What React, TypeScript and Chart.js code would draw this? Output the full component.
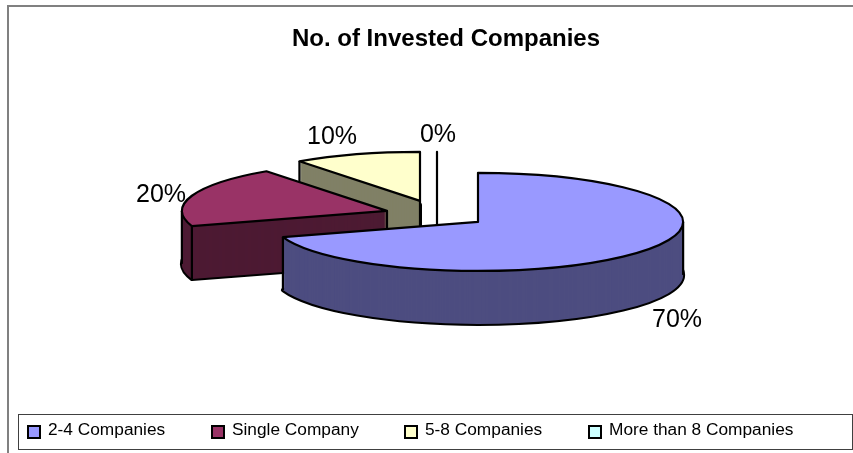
import React, { useEffect, useRef } from "react";
import { Chart, registerables } from "chart.js";

Chart.register(...registerables);

const categories = ["2-4 Companies", "Single Company", "5-8 Companies", "More than 8 Companies"];
const percentages = [70, 20, 10, 0];
const topColors = ["#9999FF", "#993366", "#FFFFCC", "#CCFFFF"];
const wallColors = ["#4D4D80", "#4D1A33", "#808066", "#668080"];
const chartTitle = "No. of Invested Companies";

const FONT = '"Liberation Sans", Arial, sans-serif';
const PIE_SHIFT_X = 32;
const RX_SCALE = 205 / 158;
const RY_SCALE = 49 / 158;
const DEPTH = 53;
const explodeX = [0, -91, -58, -41];
const explodeY = [0, -11, -21, -21];
const labelPos: [number, number][] = [
  [677, 320],
  [161, 195],
  [332, 137],
  [438, 135],
];
const legendMarkerX = [28, 212, 405, 589];
const legendTextX = [48, 232, 425, 609];

const pie3d = {
  id: "pie3d",
  beforeDatasetDraw(chart: any) {
    const ctx: CanvasRenderingContext2D = chart.ctx;
    const arcs = chart.getDatasetMeta(0).data;
    ctx.save();
    ctx.lineJoin = "round";
    ctx.strokeStyle = "#000";
    // back to front
    for (let i = arcs.length - 1; i >= 0; i--) {
      const el = arcs[i];
      const rx = el.outerRadius * RX_SCALE;
      const ry = el.outerRadius * RY_SCALE;
      const cx = el.x + PIE_SHIFT_X + explodeX[i];
      const cy = el.y + explodeY[i];
      const a0 = el.startAngle;
      const a1 = el.endAngle;
      const sector = (dy: number) => {
        ctx.beginPath();
        ctx.moveTo(cx, cy + dy);
        ctx.ellipse(cx, cy + dy, rx, ry, 0, a0, a1);
        ctx.closePath();
      };
      const vertical = (x: number, y: number) => {
        ctx.beginPath();
        ctx.moveTo(x, y);
        ctx.lineTo(x, y + DEPTH);
        ctx.stroke();
      };
      const zero = a1 - a0 < 1e-6;
      ctx.lineWidth = zero ? 2 : 4;
      sector(DEPTH);
      ctx.stroke();
      if (!zero) {
        ctx.fillStyle = wallColors[i];
        for (let dy = DEPTH; dy >= 0; dy--) {
          sector(dy);
          ctx.fill();
        }
      }
      ctx.lineWidth = 2.2;
      if (!zero) {
        if (Math.cos(a0) < -0.01 || Math.sin(a0) > 0) {
          vertical(cx + rx * Math.cos(a0), cy + ry * Math.sin(a0));
        }
        if (Math.cos(a1) > 0.01 || Math.sin(a1) > 0) {
          vertical(cx + rx * Math.cos(a1), cy + ry * Math.sin(a1));
        }
      }
      const spansFront = a0 < Math.PI / 2 && a1 > Math.PI / 2;
      if (!spansFront) vertical(cx, cy);
      for (const tip of [0, Math.PI]) {
        if (a0 < tip && a1 > tip) vertical(cx + rx * Math.cos(tip), cy);
      }
      if (!zero) {
        ctx.fillStyle = topColors[i];
        sector(0);
        ctx.fill();
      }
      sector(0);
      ctx.stroke();
    }
    ctx.restore();
    return false;
  },
  afterDraw(chart: any) {
    const ctx: CanvasRenderingContext2D = chart.ctx;
    ctx.save();
    // outer frame
    ctx.strokeStyle = "#808080";
    ctx.lineWidth = 2;
    ctx.beginPath();
    ctx.moveTo(8, 453);
    ctx.lineTo(8, 6);
    ctx.lineTo(853, 6);
    ctx.stroke();
    // data labels
    ctx.fillStyle = "#000";
    ctx.font = `25px ${FONT}`;
    ctx.textAlign = "center";
    ctx.textBaseline = "middle";
    percentages.forEach((v, i) => {
      ctx.fillText(`${v}%`, labelPos[i][0], labelPos[i][1]);
    });
    // legend
    ctx.strokeStyle = "#404040";
    ctx.lineWidth = 1;
    ctx.strokeRect(18.5, 414.5, 834, 35);
    ctx.font = `17.3px ${FONT}`;
    ctx.textAlign = "left";
    categories.forEach((c, i) => {
      ctx.fillStyle = topColors[i];
      ctx.fillRect(legendMarkerX[i], 426, 12, 12);
      ctx.strokeStyle = "#000";
      ctx.lineWidth = 2;
      ctx.strokeRect(legendMarkerX[i], 426, 12, 12);
      ctx.fillStyle = "#000";
      ctx.fillText(c, legendTextX[i], 430);
    });
    ctx.restore();
  },
};

export default function App() {
  const ref = useRef<HTMLCanvasElement>(null);
  useEffect(() => {
    const chart = new Chart(ref.current!, {
      type: "pie",
      data: {
        labels: categories,
        datasets: [{ data: percentages, backgroundColor: topColors, borderWidth: 0 }],
      },
      options: {
        responsive: false,
        animation: false,
        layout: { padding: { left: 39, right: 0, top: 0, bottom: 73 } },
        plugins: {
          legend: { display: false },
          tooltip: { enabled: false },
          title: {
            display: true,
            text: chartTitle,
            color: "#000",
            font: { family: FONT, size: 24, weight: "bold" },
            padding: { top: 25, bottom: 10 },
          },
        },
      },
      plugins: [pie3d],
    } as any);
    return () => chart.destroy();
  }, []);
  return (
    <div style={{ position: "absolute", left: 0, top: 0, width: 853, height: 453, background: "#fff" }}>
      <canvas ref={ref} width={853} height={453} style={{ display: "block" }} />
    </div>
  );
}
